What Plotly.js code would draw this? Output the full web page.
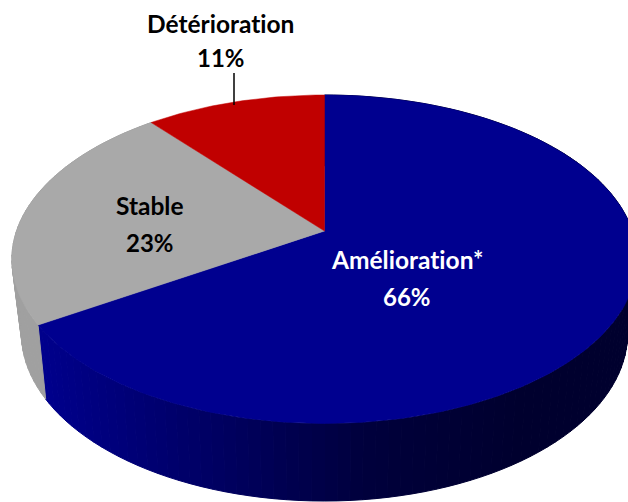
<!DOCTYPE html>
<html>
<head>
<meta charset="utf-8">
<script src="https://cdn.plot.ly/plotly-3.0.1.min.js"></script>
<style>html,body{margin:0;padding:0;background:#fff;overflow:hidden}#chart{width:628px;height:502px}
.annotation-text{font-variant-ligatures:none;font-feature-settings:"liga" 0}</style>
</head>
<body>
<div id="chart"></div>
<script>
var categories = ['Amélioration*', 'Stable', 'Détérioration'];
var values = [66, 23, 11];
var faceColors = ['#00008f', '#a9a9a9', '#c00000'];
var labelColors = ['#ffffff', '#000000', '#000000'];

// Perspective model of the disc (axes are in picture units)
var CX = 324.5, APEX_Y = 231;
var TOP = { k: 0.172, ry: 159.4, rx: 308, dy: 0 };
var BOTTOM = { k: 0.182, ry: 162, rx: 298, dy: 72 };
function rim(theta, m) {
  var u = Math.sin(theta), v = -Math.cos(theta), d = 1 - m.k * v;
  return [CX + m.rx * u / d, APEX_Y + m.dy + m.ry * v / d];
}
function lerp(a, b, t) { return a + (b - a) * t; }
function sideColor(i, x) {
  if (i === 1) return '#a0a0a0';
  var t = Math.min(1, Math.max(0, (x - 46) / 320));
  var b = x > 366 ? lerp(60, 46, Math.min(1, (x - 366) / 150)) : lerp(140, 60, t);
  return 'rgb(0,0,' + Math.round(b) + ')';
}

var total = values.reduce(function (a, b) { return a + b; }, 0);
var traces = [];
var start = 0, ranges = [];
values.forEach(function (val) {
  var end = start + val / total * 2 * Math.PI;
  ranges.push([start, end]);
  start = end;
});

// Side wall (drawn first, top face covers the hidden part)
var STEP = 2 * Math.PI / 180;
ranges.forEach(function (r, i) {
  if (i === 2) return;
  for (var a = r[0]; a < r[1]; a += STEP) {
    var b = Math.min(a + STEP, r[1]);
    var p1 = rim(a, TOP), p2 = rim(b, TOP), q2 = rim(b, BOTTOM), q1 = rim(a, BOTTOM);
    var col = sideColor(i, (q1[0] + q2[0]) / 2);
    traces.push({
      type: 'scatter', mode: 'lines', fill: 'toself', fillcolor: col,
      line: { color: col, width: 1 }, hoverinfo: 'skip',
      x: [p1[0], p2[0], q2[0], q1[0], p1[0]],
      y: [p1[1], p2[1], q2[1], q1[1], p1[1]]
    });
  }
});

// Top face
ranges.forEach(function (r, i) {
  var xs = [CX], ys = [APEX_Y], n = Math.ceil((r[1] - r[0]) / (Math.PI / 180));
  for (var j = 0; j <= n; j++) {
    var p = rim(r[0] + (r[1] - r[0]) * j / n, TOP);
    xs.push(p[0]); ys.push(p[1]);
  }
  xs.push(CX); ys.push(APEX_Y);
  traces.push({
    type: 'scatter', mode: 'lines', fill: 'toself', fillcolor: faceColors[i],
    line: { color: faceColors[i], width: 0.5 }, name: categories[i],
    hovertemplate: categories[i] + ': ' + values[i] + '%<extra></extra>',
    x: xs, y: ys
  });
});

// Leader line of the Détérioration label
traces.push({
  type: 'scatter', mode: 'lines', hoverinfo: 'skip',
  line: { color: '#000000', width: 1.5 },
  x: [234, 234], y: [73, 105]
});

var labelX = [407, 150, 220.5];
var labelY = [259.5, 205, 23];
var percentY = [296, 242, 57];
var font = 'Lato, "Open Sans", sans-serif';
var annotations = [];
categories.forEach(function (c, i) {
  annotations.push({ text: '<b>' + c + '</b>', x: labelX[i], y: labelY[i], xref: 'x', yref: 'y', showarrow: false,
    font: { family: font, size: 24.5, color: labelColors[i] } });
  annotations.push({ text: '<b>' + values[i] + '%</b>', x: labelX[i], y: percentY[i], xref: 'x', yref: 'y', showarrow: false,
    font: { family: font, size: 24, color: labelColors[i] } });
});

var layout = {
  width: 628, height: 502,
  margin: { l: 0, r: 0, t: 0, b: 0 },
  paper_bgcolor: '#ffffff', plot_bgcolor: '#ffffff',
  showlegend: false,
  xaxis: { range: [0, 628], visible: false, fixedrange: true },
  yaxis: { range: [502, 0], visible: false, fixedrange: true },
  annotations: annotations
};
Plotly.newPlot('chart', traces, layout, { displayModeBar: false });
</script>
</body>
</html>
